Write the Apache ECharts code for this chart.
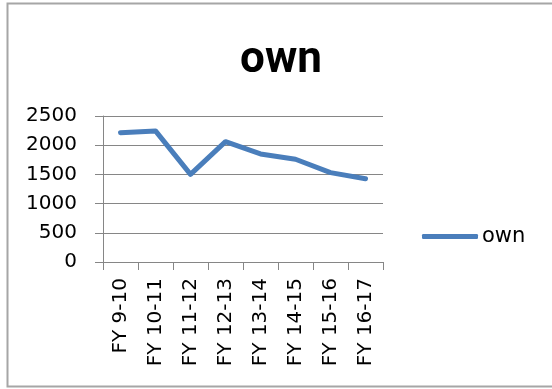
<!DOCTYPE html>
<html>
<head>
<meta charset="utf-8">
<script src="https://cdn.jsdelivr.net/npm/echarts@6/dist/echarts.min.js"></script>
<style>
  html, body { margin: 0; padding: 0; background: #fff; overflow: hidden; }
  #main { width: 552px; height: 389px; }
</style>
</head>
<body>
<div id="main"></div>
<script>
var categories = ['FY 9-10', 'FY 10-11', 'FY 11-12', 'FY 12-13', 'FY 13-14', 'FY 14-15', 'FY 15-16', 'FY 16-17'];
var ownValues = [2215, 2245, 1500, 2060, 1850, 1760, 1530, 1425];
var yTicks = [0, 500, 1000, 1500, 2000, 2500];

var chart = echarts.init(document.getElementById('main'));
var option = {
    animation: false,
    backgroundColor: '#fff',
    title: {
        text: 'own',
        left: 281,
        top: 39,
        padding: 0,
        textAlign: 'center',
        textStyle: {
            fontFamily: 'Roboto',
            fontSize: 44,
            fontWeight: 'bold',
            color: '#000'
        }
    },
    // chart frame, open on the right like the source image
    graphic: [{
        type: 'polyline',
        shape: { points: [[640, 3.5], [7.5, 3.5], [7.5, 386.5], [640, 386.5]] },
        style: { fill: 'none', stroke: '#a6a6a6', lineWidth: 2 },
        silent: true
    }],
    legend: {
        data: ['own'],
        left: 422,
        top: 226,
        padding: 0,
        icon: 'roundRect',
        itemWidth: 56,
        itemHeight: 5,
        itemStyle: { color: '#4a7ebb' },
        textStyle: { fontFamily: 'DejaVu Sans', fontSize: 21, color: '#000', padding: [0, 0, 0, -1] }
    },
    grid: {
        left: 103,
        top: 116,
        width: 280,
        height: 146,
        containLabel: false
    },
    xAxis: {
        type: 'category',
        data: categories,
        boundaryGap: true,
        axisLine: { lineStyle: { color: '#868686', width: 1 } },
        axisTick: { show: true, length: 8, lineStyle: { color: '#868686' } },
        axisLabel: {
            rotate: 90,
            interval: 0,
            margin: 16,
            fontFamily: 'DejaVu Sans',
            fontSize: 20,
            color: '#000'
        }
    },
    yAxis: {
        type: 'value',
        min: yTicks[0],
        max: yTicks[yTicks.length - 1],
        interval: 500,
        axisLine: { show: true, lineStyle: { color: '#868686', width: 1 } },
        axisTick: { show: true, length: 8, lineStyle: { color: '#868686' } },
        splitLine: { lineStyle: { color: '#868686', width: 1 } },
        axisLabel: {
            margin: 26,
            fontFamily: 'DejaVu Sans',
            fontSize: 20,
            color: '#000',
            formatter: function (v) { return String(v); }
        }
    },
    series: [{
        name: 'own',
        type: 'line',
        data: ownValues,
        symbol: 'none',
        lineStyle: { color: '#4a7ebb', width: 5, cap: 'round', join: 'round' },
        itemStyle: { color: '#4a7ebb' }
    }]
};
chart.setOption(option);
</script>
</body>
</html>
